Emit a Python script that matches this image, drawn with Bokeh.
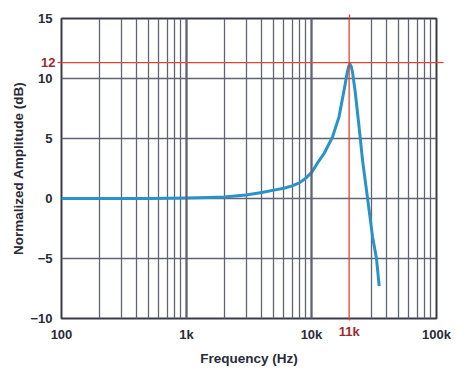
from bokeh.plotting import figure
from bokeh.models import FixedTicker, Span, Range1d, LinearAxis, LogAxis
from bokeh.embed import file_html
from bokeh.resources import INLINE

# ---- data ----
freq_hz = [100, 200, 300, 500, 700, 1000, 1500, 2000, 3000, 4000, 5000, 6000, 7000,
           8000, 9000, 10000, 10500, 11400, 12600, 14700, 16600, 18200, 19400,
           19900, 20300, 20800, 21300, 22300, 24000, 25600, 28100, 30800, 33100, 34800]
amp_db = [0.0, 0.0, 0.0, 0.01, 0.02, 0.05, 0.09, 0.13, 0.3, 0.5, 0.7, 0.85, 1.05,
          1.3, 1.7, 2.15, 2.5, 3.1, 3.75, 5.1, 6.8, 9.0, 10.6,
          11.05, 11.2, 11.0, 10.5, 9.0, 6.0, 3.2, 0.0, -3.2, -5.0, -7.3]

x_tick_values = [100, 1000, 10000, 100000]
x_tick_labels = ["100", "1k", "10k", "100k"]
y_tick_values = [-10, -5, 0, 5, 10, 15]
y_tick_labels = ["\u221210", "\u22125", "0", "5", "10", "15"]
x_minor_grid = [200, 300, 400, 500, 600, 700, 800, 900,
                2000, 3000, 4000, 5000, 6000, 7000, 8000, 9000,
                30000, 40000, 50000, 60000, 70000, 80000, 90000]
x_decade_grid = [1000, 10000]

marker_freq = 20000
marker_freq_label = "11k"
marker_db = 11.33
marker_db_label = "12"

x_min, x_max = 100, 100000
y_min, y_max = -10, 15

# ---- styles ----
FONT = "Liberation Sans"
TEXT = "#2a2a38"
GRID = "#5f6473"
BLUE = "#2a92c8"
RED = "#e5432e"
DARKRED = "#9b2a2e"

p = figure(width=466, height=384, x_axis_type="log",
           x_range=Range1d(x_min, x_max), y_range=Range1d(y_min, y_max),
           output_backend="svg", toolbar_location=None,
           min_border_left=61, min_border_right=30, min_border_top=18,
           min_border_bottom=66)

p.background_fill_color = "white"
p.border_fill_color = "white"
p.outline_line_color = "#3a3d48"
p.outline_line_width = 2

# grids
p.xgrid.ticker = FixedTicker(ticks=x_minor_grid + x_decade_grid)
p.xgrid.grid_line_color = GRID
p.xgrid.grid_line_width = 1.3
p.ygrid.ticker = FixedTicker(ticks=y_tick_values)
p.ygrid.grid_line_color = GRID
p.ygrid.grid_line_width = 1.3
for d in x_decade_grid:
    p.add_layout(Span(location=d, dimension="height", line_color=GRID, line_width=2.2))


def style_axis(ax, color=TEXT):
    ax.axis_line_color = None
    ax.major_tick_line_color = None
    ax.minor_tick_line_color = None
    ax.major_tick_in = 0
    ax.major_tick_out = 0
    ax.minor_tick_in = 0
    ax.minor_tick_out = 0
    ax.major_label_text_font = FONT
    ax.major_label_text_font_style = "bold"
    ax.major_label_text_font_size = "13px"
    ax.major_label_text_color = color
    ax.axis_label_text_font = FONT
    ax.axis_label_text_font_style = "bold"
    ax.axis_label_text_font_size = "13.5px"
    ax.axis_label_text_color = TEXT


# red marker axes, nearest the frame (labels "11k" and "12")
mx = LogAxis(ticker=FixedTicker(ticks=[marker_freq]),
             major_label_overrides={marker_freq: marker_freq_label})
style_axis(mx, DARKRED)
mx.major_tick_line_color = RED
mx.major_tick_line_width = 1.3
mx.major_tick_out = 2
mx.major_label_standoff = 3
p.below.insert(0, mx)

my = LinearAxis(ticker=FixedTicker(ticks=[marker_db]),
                major_label_overrides={marker_db: marker_db_label})
style_axis(my, DARKRED)
my.major_tick_line_color = RED
my.major_tick_line_width = 1.3
my.major_tick_out = 4
my.major_label_standoff = 2
p.left.insert(0, my)

# red line stubs above and right of the frame (tick marks only)
mt = LogAxis(ticker=FixedTicker(ticks=[marker_freq]),
             major_label_overrides={marker_freq: " "})
style_axis(mt)
mt.major_label_text_font_size = "1px"
mt.major_label_text_alpha = 0
mt.major_label_standoff = 0
mt.major_tick_line_color = RED
mt.major_tick_line_width = 1.3
mt.major_tick_out = 4
p.add_layout(mt, "above")

mr = LinearAxis(ticker=FixedTicker(ticks=[marker_db]),
                major_label_overrides={marker_db: " "})
style_axis(mr)
mr.major_label_text_font_size = "1px"
mr.major_label_text_alpha = 0
mr.major_label_standoff = 0
mr.major_tick_line_color = RED
mr.major_tick_line_width = 1.3
mr.major_tick_out = 7
p.add_layout(mr, "right")

# main axes (pulled back onto the same label row as the red ones)
xa = p.below[1]
ya = p.left[1]
xa.ticker = FixedTicker(ticks=x_tick_values)
xa.major_label_overrides = {v: l for v, l in zip(x_tick_values, x_tick_labels)}
ya.ticker = FixedTicker(ticks=y_tick_values)
ya.major_label_overrides = {v: l for v, l in zip(y_tick_values, y_tick_labels)}
for ax in (xa, ya):
    style_axis(ax)
xa.axis_label = "Frequency (Hz)"
ya.axis_label = "Normalized Amplitude (dB)"
xa.major_label_standoff = -15
ya.major_label_standoff = -14
xa.axis_label_standoff = 6
ya.axis_label_standoff = 1

# red marker lines inside the frame
p.add_layout(Span(location=marker_freq, dimension="height", line_color=RED, line_width=1.3))
p.add_layout(Span(location=marker_db, dimension="width", line_color=RED, line_width=1.3))

# curve
p.line(freq_hz, amp_db, line_color=BLUE, line_width=3, line_join="round")

open("out.html", "w").write(file_html(p, INLINE))
